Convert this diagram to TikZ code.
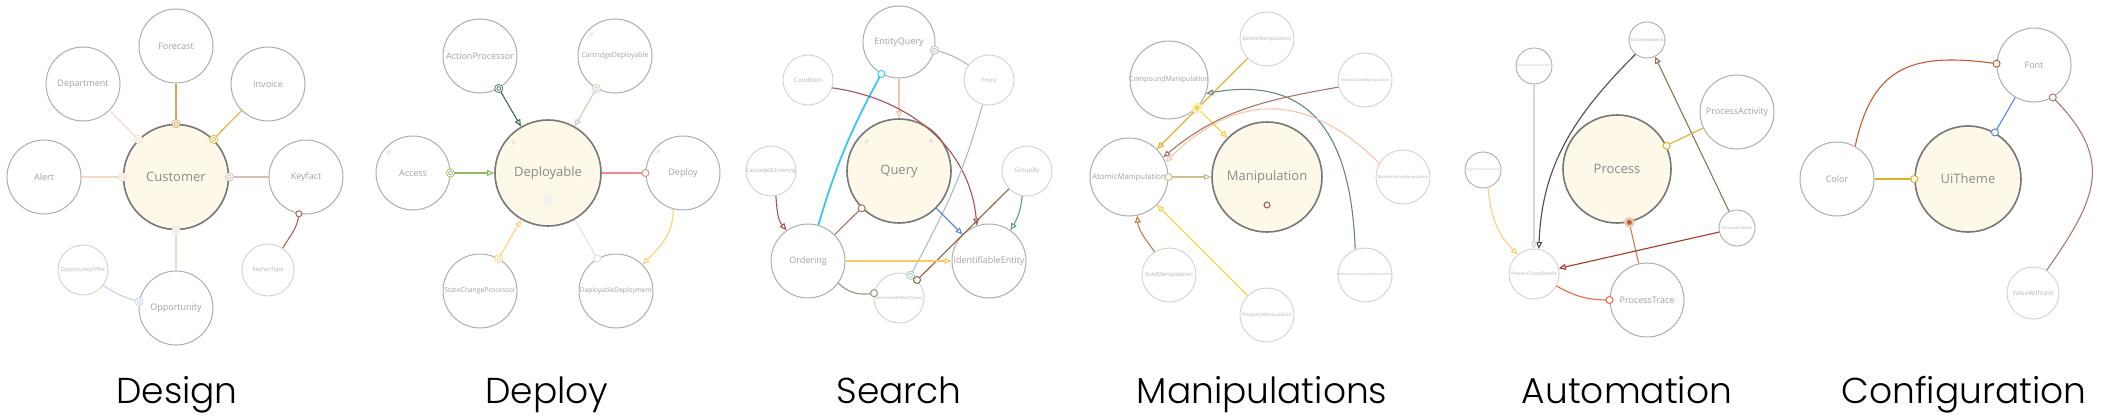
\documentclass[tikz,border=0pt]{standalone}
\usepackage{fontspec}
\setmainfont{Open Sans}
\newfontfamily\capfont{Poppins Light}
\usetikzlibrary{arrows.meta}

\definecolor{hubfill}{HTML}{FDF8E8}
\definecolor{hubline}{HTML}{777777}
\definecolor{hubtext}{HTML}{8A8A8A}
\definecolor{entline}{HTML}{ADADAD}
\definecolor{enttext}{HTML}{A2A2A2}
\definecolor{satline}{HTML}{D2D2D2}
\definecolor{sattext}{HTML}{B4B4B4}
\definecolor{cForecast}{HTML}{D9A55E}
\definecolor{cGold}{HTML}{E0B12A}
\definecolor{cPeach}{HTML}{F5D8C5}
\definecolor{cKeyfact}{HTML}{D8BFB6}
\definecolor{cLavender}{HTML}{C9CDF6}
\definecolor{cCrimson}{HTML}{B35A5A}
\definecolor{cPine}{HTML}{3D6B4C}
\definecolor{cTan}{HTML}{D9C6B8}
\definecolor{cLeaf}{HTML}{8DBB62}
\definecolor{cPink}{HTML}{F28B8B}
\definecolor{cHoney}{HTML}{F7D27A}
\definecolor{cPale}{HTML}{DCE4E6}
\definecolor{cSalmon}{HTML}{F7C4AD}
\definecolor{cGray}{HTML}{B9B9B9}
\definecolor{cCyan}{HTML}{3EC3F2}
\definecolor{cRed}{HTML}{A95252}
\definecolor{cSteel}{HTML}{A9BDC6}
\definecolor{cBrown}{HTML}{A77565}
\definecolor{cBlue}{HTML}{5A85E3}
\definecolor{cGreen}{HTML}{5FA07F}
\definecolor{cDarkBrown}{HTML}{8C6343}
\definecolor{cYellow}{HTML}{F8CB62}
\definecolor{cOlive}{HTML}{8F9C74}
\definecolor{cLemon}{HTML}{F1D24A}
\definecolor{cTeal}{HTML}{67877E}
\definecolor{cKhaki}{HTML}{C9C292}
\definecolor{cOrange}{HTML}{C97A3C}
\definecolor{cDark}{HTML}{4D4D4D}
\definecolor{cUmber}{HTML}{8C7455}
\definecolor{cRust}{HTML}{C35C2E}
\definecolor{cMaroon}{HTML}{A23A22}
\definecolor{cVermilion}{HTML}{F2643E}
\definecolor{cMist}{HTML}{CCDADE}
\definecolor{cMauve}{HTML}{A87A6C}
\definecolor{cKey}{HTML}{C4C4C4}

\newcommand\fs[1]{\fontsize{#1}{#1}\selectfont}
\newcommand\nm[1]{\makebox[0pt]{#1}}

\tikzset{
  hub/.style={circle, draw=hubline, line width=1.6pt, fill=hubfill, text=hubtext,
    inner sep=0pt, minimum size=106pt, font=\fs{13}},
  ent/.style={circle, draw=entline, line width=1pt, fill=white, text=enttext,
    inner sep=0pt, minimum size=74pt, font=\fs{9}},
  sat/.style={circle, draw=satline, line width=0.9pt, fill=white, text=sattext,
    inner sep=0pt, minimum size=52pt, font=\fs{5.5}},
  link/.style={draw=#1, line width=1.1pt},
  tip/.style={-{Triangle[open,length=7pt,width=6pt]}},
  ring/.style={circle, draw=#1, double=white, double distance=1.1pt, line width=0.8pt,
    fill=white, inner sep=0pt, minimum size=6pt},
  hole/.style={circle, draw=#1, fill=white, line width=1pt, inner sep=0pt, minimum size=7pt},
  dot/.style={circle, fill=#1, draw=#1!35, line width=2.5pt, inner sep=0pt, minimum size=8pt},
  keymark/.style={text=cKey, font=\fs{6}, inner sep=0pt},
  caption/.style={font=\capfont\fs{36}, anchor=base, inner sep=0pt}
}

\begin{document}
\begin{tikzpicture}[x=1pt,y=1pt]
\useasboundingbox (0,0) rectangle (2116,416);

\node[hub, minimum size=105pt] (Customer) at (176,239) {Customer};
\node[ent] (Forecast) at (176,370) {\nm{Forecast}};
\node[ent] (Department) at (83,332) {\nm{Department}};
\node[ent] (Invoice) at (268,332) {\nm{Invoice}};
\node[ent] (Alert) at (44,239) {\nm{Alert}};
\node[ent] (Keyfact) at (306,239) {\nm{Keyfact}};
\node[ent] (Opportunity) at (176,108) {\nm{Opportunity}};
\node[sat, minimum size=50pt] (OpportunityOffer) at (83,146) {\nm{OpportunityOffer}};
\node[sat] (KeyfactType) at (268,146) {\nm{KeyfactType}};
\draw[link=cForecast] (Forecast) -- (Customer);
\draw[link=cGold] (Invoice) -- (Customer);
\draw[link=cPeach] (Department) -- (Customer);
\draw[link=cPeach] (Alert) -- (Customer);
\draw[link=cKeyfact] (Keyfact) -- (Customer);
\draw[link=cPeach] (Opportunity) -- (Customer);
\draw[link=cLavender] (OpportunityOffer.-37) to[out=-35,in=165] (Opportunity.170);
\draw[link=cCrimson] (KeyfactType.56) to[out=60,in=265] (Keyfact.259);
\node[ring=cForecast] (m1) at (Customer.90) {};
\node[ring=cGold] (m2) at (Customer.45) {};
\node[ring=cPeach] (m3) at (Customer.135) {};
\node[ring=cPeach] (m4) at (Customer.180) {};
\node[ring=cKeyfact] (m5) at (Customer.0) {};
\node[ring=cPeach] (m6) at (Customer.270) {};
\node[ring=cLavender] (m7) at (Opportunity.170) {};
\node[hole=cCrimson, minimum size=6pt] (m8) at (Keyfact.259) {};

\node[hub] (Deployable) at (548,243) {Deployable};
\node[ent] (ActionProcessor) at (480,360) {\nm{ActionProcessor}};
\node[ent, font=\fs{7}] (CartridgeDeployable) at (615,360) {\nm{CartridgeDeployable}};
\node[ent] (Access) at (413,243) {\nm{Access}};
\node[ent] (Deploy) at (683,243) {\nm{Deploy}};
\node[ent, font=\fs{6.8}] (StateChangeProcessor) at (480,125) {\nm{StateChangeProcessor}};
\node[ent, font=\fs{6.6}] (DeployableDeployment) at (616,125) {\nm{DeployableDeployment}};
\draw[link=cPine, tip] (ActionProcessor) -- (Deployable);
\draw[link=cTan, tip] (CartridgeDeployable) -- (Deployable);
\draw[link=cLeaf, tip] (Access) -- (Deployable);
\draw[link=cHoney, tip] (StateChangeProcessor) -- (Deployable);
\draw[link=cPink] (Deployable) -- (Deploy);
\draw[link=cPale] (Deployable) -- (DeployableDeployment);
\draw[link=cHoney, tip] (Deploy.255) to[out=-90,in=45] (DeployableDeployment.45);
\node[ring=cPine] (m9) at (ActionProcessor.-60) {};
\node[ring=cTan] (m10) at (CartridgeDeployable.240) {};
\node[ring=cLeaf] (m11) at (Access.0) {};
\node[ring=cHoney] (m12) at (StateChangeProcessor.60) {};
\node[hole=cPink] (m13) at (Deploy.180) {};
\node[hole=cPale] (m14) at (DeployableDeployment.120) {};
\node[ring=cPale] (m15) at (548,216) {};
\node[keymark] (k1) at (592,381) {P};
\node[keymark] (k2) at (514,273) {P};
\node[keymark] (k3) at (389,263) {P};
\node[keymark] (k4) at (659,264) {P};

\node[hub, minimum size=104pt] (Query) at (899,245) {Query};
\node[ent, minimum size=72pt] (EntityQuery) at (899,374) {\nm{EntityQuery}};
\node[sat, minimum size=50pt, font=\fs{6.2}] (Condition) at (808,336) {\nm{Condition}};
\node[sat, minimum size=50pt, font=\fs{6.2}] (From) at (989,336) {\nm{From}};
\node[sat, minimum size=50pt, font=\fs{5.8}] (CascadedOrdering) at (771,245) {\nm{CascadedOrdering}};
\node[sat, minimum size=50pt, font=\fs{6.2}] (GroupBy) at (1027,245) {\nm{GroupBy}};
\node[ent] (Ordering) at (808,155) {\nm{Ordering}};
\node[ent] (IdentifiableEntity) at (989,155) {\nm{IdentifiableEntity}};
\node[sat, minimum size=50pt, font=\fs{4.3}] (NormalizedSelectQuery) at (899,118) {\nm{NormalizedSelectQuery}};
\draw[link=cSalmon, tip] (EntityQuery) -- (Query);
\draw[link=cGray] (EntityQuery.-13) to[bend left=10] (From.144);
\draw[link=cCyan, line width=1.8pt] (Ordering.74) to[bend left=6] (EntityQuery.241);
\draw[link=cRed, tip] (Condition.-18) to[out=-8,in=95] (IdentifiableEntity.109);
\draw[link=cSteel] (From.255) to[out=-105,in=62] (NormalizedSelectQuery.63);
\draw[link=cRed, tip] (CascadedOrdering.281) to[out=-85,in=130] (Ordering.125);
\draw[link=cBrown] (Ordering) -- (Query);
\draw[link=cBlue, tip] (Query) -- (IdentifiableEntity);
\draw[link=cGreen, tip] (GroupBy.259) to[out=-95,in=60] (IdentifiableEntity.55);
\draw[link=cDarkBrown] (GroupBy) -- (NormalizedSelectQuery);
\draw[link=cYellow, tip] (Ordering) -- (IdentifiableEntity);
\draw[link=cOlive] (Ordering.-36) to[out=-45,in=190] (NormalizedSelectQuery.169);
\node[ring=cGray] (m16) at (EntityQuery.-13) {};
\node[hole=cCyan] (m17) at (EntityQuery.241) {};
\node[ring=cSteel] (m18) at (NormalizedSelectQuery.63) {};
\node[hole=cBrown] (m19) at (Query.225) {};
\node[hole=cDarkBrown] (m20) at (NormalizedSelectQuery.45) {};
\node[hole=cOlive] (m21) at (NormalizedSelectQuery.169) {};
\node[keymark] (k5) at (867,274) {P};
\node[keymark, font=\fs{9}] (k6) at (931,274) {×};

\node[hub, minimum size=110pt] (Manipulation) at (1267,239) {Manipulation};
\node[ent, minimum size=78pt, font=\fs{7}] (CompoundManipulation) at (1169,336) {\nm{CompoundManipulation}};
\node[ent, minimum size=78pt, font=\fs{7.8}] (AtomicManipulation) at (1129,239) {\nm{AtomicManipulation}};
\node[sat, minimum size=54pt, font=\fs{5.3}] (DeleteManipulation) at (1267,377) {\nm{DeleteManipulation}};
\node[sat, minimum size=54pt, font=\fs{4}] (InstantiationManipulation) at (1365,336) {\nm{InstantiationManipulation}};
\node[sat, minimum size=54pt, font=\fs{4}] (ManifestationManipulation) at (1403,239) {\nm{ManifestationManipulation}};
\node[sat, minimum size=54pt, font=\fs{5.8}] (VoidManipulation) at (1169,141) {\nm{VoidManipulation}};
\node[sat, minimum size=54pt, font=\fs{4.8}] (PropertyManipulation) at (1267,101) {\nm{PropertyManipulation}};
\node[sat, minimum size=54pt, font=\fs{3.3}] (NormalizedCompoundManipulation) at (1365,141) {\nm{NormalizedCompoundManipulation}};
\draw[link=cGold, tip] (DeleteManipulation) -- (AtomicManipulation);
\draw[link=cLemon, tip] (CompoundManipulation) -- (Manipulation);
\draw[link=cTeal, tip] (NormalizedCompoundManipulation.111) to[out=92,in=10,looseness=1.3] (CompoundManipulation.-20);
\draw[link=cBrown, tip] (InstantiationManipulation.195) to[out=190,in=40] (AtomicManipulation.30);
\draw[link=cSalmon, tip] (ManifestationManipulation.150) to[out=135,in=45,looseness=1.2] (AtomicManipulation.22);
\draw[link=cKhaki, tip] (AtomicManipulation) -- (Manipulation);
\draw[link=cOrange, tip] (VoidManipulation.122) to[out=125,in=-85] (AtomicManipulation.282);
\draw[link=cLemon, tip] (PropertyManipulation) -- (AtomicManipulation);
\node[dot=cLemon] (m22) at (CompoundManipulation.-45) {};
\node[hole=cKhaki] (m23) at (AtomicManipulation.0) {};
\node[hole=cRed, minimum size=6pt] (m24) at (1267,211) {};

\node[hub, minimum size=108pt] (Process) at (1617,247) {Process};
\node[sat, minimum size=36pt, draw=entline, font=\fs{4}] (HasDeployableInfo) at (1647,376) {\nm{HasDeployableInfo}};
\node[ent] (ProcessActivity) at (1737,304) {\nm{ProcessActivity}};
\node[sat, minimum size=36pt, draw=entline, font=\fs{4}] (ProcessorDetails) at (1737,188) {\nm{ProcessorDetails}};
\node[ent] (ProcessTrace) at (1647,116) {\nm{ProcessTrace}};
\node[sat, minimum size=50pt, font=\fs{4.9}] (ProcessTraceDetails) at (1534,142) {\nm{ProcessTraceDetails}};
\node[sat, minimum size=36pt, draw=entline, font=\fs{2.6}] (OngoingContinuationDetails) at (1483,246) {\nm{OngoingContinuationDetails}};
\node[sat, minimum size=36pt, draw=entline, font=\fs{2.6}] (ResumeContinuationDetails) at (1534,350) {\nm{ResumeContinuationDetails}};
\draw[link=cDark, tip] (HasDeployableInfo.231) to[out=225,in=88] (ProcessTraceDetails.79);
\draw[link=cUmber, tip] (ProcessorDetails) -- (HasDeployableInfo);
\draw[link=cGold] (ProcessActivity) -- (Process);
\draw[link=cRust!70!cTan] (ProcessTrace) -- (Process);
\draw[link=cMaroon, tip] (ProcessorDetails) -- (ProcessTraceDetails);
\draw[link=cVermilion] (ProcessTraceDetails.-28) to[out=-30,in=180] (ProcessTrace.180);
\draw[link=cMist, tip] (ResumeContinuationDetails) -- (ProcessTraceDetails);
\draw[link=cHoney, tip] (OngoingContinuationDetails.-74) to[out=-85,in=135] (ProcessTraceDetails.130);
\node[hole=cGold] (m25) at (Process.25) {};
\node[dot=cRust] (m26) at (Process.-77) {};
\node[hole=cVermilion] (m27) at (ProcessTrace.180) {};

\node[hub] (UiTheme) at (1968,237) {UiTheme};
\node[ent] (Font) at (2034,351) {\nm{Font}};
\node[ent] (Color) at (1837,237) {\nm{Color}};
\node[sat, font=\fs{6.2}] (ValueWithUnit) at (2033,123) {\nm{ValueWithUnit}};
\draw[link=cRust] (Color.61) to[out=78,in=172,looseness=1.3] (Font.178);
\draw[link=cBlue] (Font) -- (UiTheme);
\draw[link=cGold] (Color) -- (UiTheme);
\draw[link=cMauve] (ValueWithUnit.59) to[out=55,in=-45,looseness=1.3] (Font.-60);
\node[hole=cRust] (m28) at (Font.178) {};
\node[hole=cBlue] (m29) at (UiTheme.60) {};
\node[hole=cGold] (m30) at (UiTheme.180) {};
\node[hole=cMauve] (m31) at (Font.-60) {};

\node[caption] (lDesign) at (177,13) {Design};
\node[caption] (lDeploy) at (547,13) {Deploy};
\node[caption] (lSearch) at (899,13) {Search};
\node[caption] (lManipulations) at (1262,13) {Manipulations};
\node[caption] (lAutomation) at (1627,13) {Automation};
\node[caption] (lConfiguration) at (1964,13) {Configuration};
\end{tikzpicture}
\end{document}
